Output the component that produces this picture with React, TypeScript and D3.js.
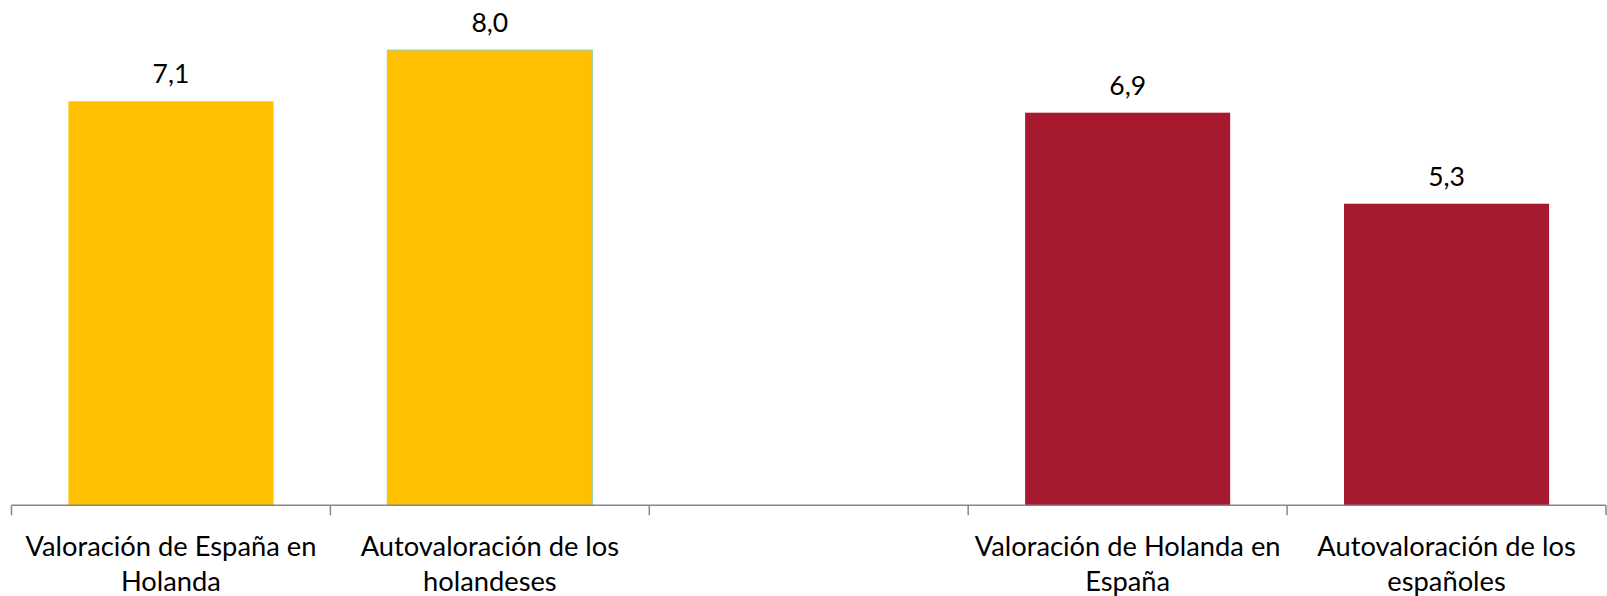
import React from "react";
import * as d3 from "d3";

const categories: string[][] = [
  ["Valoración de España en", "Holanda"],
  ["Autovaloración de los", "holandeses"],
  [],
  ["Valoración de Holanda en", "España"],
  ["Autovaloración de los", "españoles"],
];
const values: (number | null)[] = [7.1, 8.0, null, 6.9, 5.3];
const labels: string[] = ["7,1", "8,0", "", "6,9", "5,3"];
const colors: string[] = ["#FFC000", "#FFC000", "#FFFFFF", "#A6192E", "#A6192E"];
const strokes: string[] = ["none", "#8FD3A8", "none", "none", "none"];

const W = 1607;
const H = 596;
const FONT = "Lato, 'Open Sans', sans-serif";

export default function App() {
  const ids = categories.map((_, i) => String(i));
  const x = d3
    .scaleBand<string>()
    .domain(ids)
    .range([11.5, 1606])
    .paddingInner(0.357)
    .paddingOuter(0.357 / 2);
  const y = d3.scaleLinear().domain([0, 9]).range([505.3, 505.3 - 56.9 * 9]);
  const step = x.step();
  const x0 = x.range()[0];
  const ticks = d3.range(categories.length + 1).map((i) => x0 + i * step);
  const baseY = y(0);

  return (
    <svg
      width={W}
      height={H}
      style={{ position: "absolute", left: 0, top: 0, background: "#fff" }}
      fontFamily={FONT}
    >
      {values.map((v, i) =>
        v == null ? null : (
          <g key={i}>
            <rect
              x={x(ids[i])!}
              y={y(v)}
              width={x.bandwidth()}
              height={baseY - y(v)}
              fill={colors[i]}
              stroke={strokes[i]}
              strokeWidth={strokes[i] === "none" ? 0 : 1}
            />
            <text
              x={x(ids[i])! + x.bandwidth() / 2}
              y={y(v) - 18}
              textAnchor="middle"
              fontSize={26.5}
              fill="#000"
            >
              {labels[i]}
            </text>
          </g>
        )
      )}
      <line x1={ticks[0]} x2={ticks[ticks.length - 1]} y1={baseY} y2={baseY} stroke="#868686" strokeWidth={1.5} />
      {ticks.map((t, i) => (
        <line key={i} x1={t} x2={t} y1={baseY} y2={baseY + 10} stroke="#868686" strokeWidth={1.5} />
      ))}
      {categories.map((lines, i) => (
        <text
          key={i}
          x={x(ids[i])! + x.bandwidth() / 2}
          y={556}
          textAnchor="middle"
          fontSize={27.3}
          fill="#000"
        >
          {lines.map((l, j) => (
            <tspan key={j} x={x(ids[i])! + x.bandwidth() / 2} dy={j === 0 ? 0 : 35}>
              {l}
            </tspan>
          ))}
        </text>
      ))}
    </svg>
  );
}
